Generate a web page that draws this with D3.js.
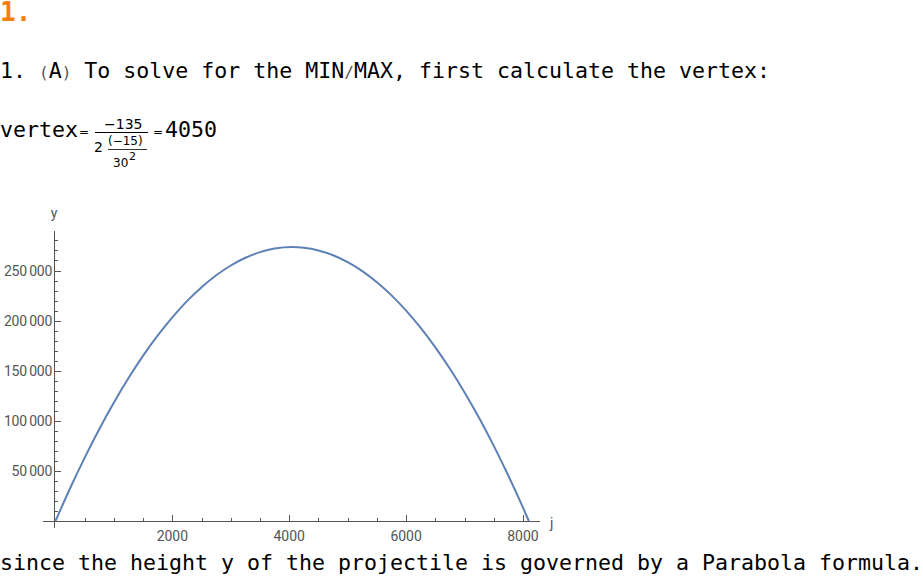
<!DOCTYPE html>
<html><head><meta charset="utf-8">
<script src="https://cdn.jsdelivr.net/npm/d3@7"></script>
<style>body{margin:0;background:#fff}svg{display:block}</style>
</head><body>
<svg id="c" width="923" height="576"></svg>
<script>
const jValues = [0,250,500,750,1000,1250,1500,1750,2000,2250,2500,2750,3000,3250,3500,3750,4050,4250,4500,4750,5000,5250,5500,5750,6000,6250,6500,6750,7000,7250,7500,7750,8000,8100];
const yRead = [0,32700,63300,91900,118300,142700,165000,185200,203300,219400,233300,245200,255000,262700,268300,271900,273400,272700,270000,265200,258300,249400,238300,225200,210000,192700,173300,151900,128300,102700,75000,45200,13300,0];
const xTicks = [2000,4000,6000,8000];
const yTicks = [50000,100000,150000,200000,250000];

const svg = d3.select("#c");
const x = d3.scaleLinear().domain([0,8000]).range([55.5,523]);
const y = d3.scaleLinear().domain([0,250000]).range([521,270.5]);
const mono = "DejaVu Sans Mono";
const grey = "#555";
const fs = 21.6;

svg.append("text").attr("x",0).attr("y",21).attr("font-family",mono).attr("font-weight","bold")
  .attr("font-size",26).attr("fill","#f57f0a").text("1.");
const t1 = svg.append("text").attr("x",0).attr("y",78).attr("font-family",mono).attr("font-size",fs).attr("fill","#000");
t1.append("tspan").text("1. ");
t1.append("tspan").attr("font-size",16).attr("fill","#555").text("(");
t1.append("tspan").text("A");
t1.append("tspan").attr("font-size",16).attr("fill","#555").text(")");
t1.append("tspan").text(" To solve for the MIN");
t1.append("tspan").attr("font-size",16).attr("fill","#555").text("/");
t1.append("tspan").text("MAX, first calculate the vertex:");

svg.append("text").attr("x",0).attr("y",137).attr("font-family",mono).attr("font-size",fs).text("vertex");
const sm = "DejaVu Sans";
svg.append("text").attr("x",79).attr("y",136).attr("font-family",sm).attr("font-size",12).text("=");
svg.append("text").attr("x",104).attr("y",129).attr("font-family",sm).attr("font-size",14).text("\u2212135");
svg.append("line").attr("x1",95).attr("x2",148).attr("y1",132.5).attr("y2",132.5).attr("stroke","#000");
svg.append("text").attr("x",94).attr("y",152).attr("font-family",sm).attr("font-size",14).text("2");
svg.append("text").attr("x",108).attr("y",145).attr("font-family",sm).attr("font-size",12).text("(\u221215)");
svg.append("line").attr("x1",108).attr("x2",147).attr("y1",149.5).attr("y2",149.5).attr("stroke","#000").attr("stroke-width",0.8);
svg.append("text").attr("x",113).attr("y",167).attr("font-family",sm).attr("font-size",12).text("30");
svg.append("text").attr("x",129).attr("y",160).attr("font-family",sm).attr("font-size",11).text("2");
svg.append("text").attr("x",153).attr("y",136).attr("font-family",sm).attr("font-size",12).text("=");
svg.append("text").attr("x",165).attr("y",137).attr("font-family",mono).attr("font-size",fs).text("4050");

// axes
const ax = svg.append("g").attr("stroke",grey).attr("fill","none");
ax.append("line").attr("x1",43).attr("x2",540).attr("y1",521.5).attr("y2",521.5);
ax.append("line").attr("x1",54.5).attr("x2",54.5).attr("y1",231).attr("y2",528);
d3.range(500,8001,500).forEach(v=>{
  const maj = v%2000===0;
  ax.append("line").attr("x1",Math.round(x(v))+0.5).attr("x2",Math.round(x(v))+0.5).attr("y1",521).attr("y2",maj?515:518);
});
d3.range(10000,290000,10000).forEach(v=>{
  const maj = v%50000===0;
  ax.append("line").attr("x1",55).attr("x2",maj?61:58).attr("y1",Math.round(y(v))+0.5).attr("y2",Math.round(y(v))+0.5);
});
const lab = svg.append("g").attr("font-family","Roboto, sans-serif").attr("font-size",14).attr("fill",grey);
xTicks.forEach(v=>lab.append("text").attr("x",x(v)).attr("y",541).attr("text-anchor","middle").text(v));
yTicks.forEach(v=>lab.append("text").attr("x",52).attr("y",y(v)+5).attr("text-anchor","end").attr("letter-spacing",-0.3)
  .text(d3.format(",")(v).replace(",","\u2009")));
lab.append("text").attr("x",54).attr("y",218).attr("text-anchor","middle").text("y");
lab.append("text").attr("x",550).attr("y",528).text("j");

const pts = jValues.map((j,i)=>[j,yRead[i]]);
svg.append("path").datum(pts).attr("fill","none").attr("stroke","#5e81b5").attr("stroke-width",2)
  .attr("d",d3.line().x(d=>x(d[0])).y(d=>y(d[1])).curve(d3.curveMonotoneX));

svg.append("text").attr("x",0).attr("y",570).attr("font-family",mono).attr("font-size",fs)
  .text("since the height y of the projectile is governed by a Parabola formula.");
</script>
</body></html>
